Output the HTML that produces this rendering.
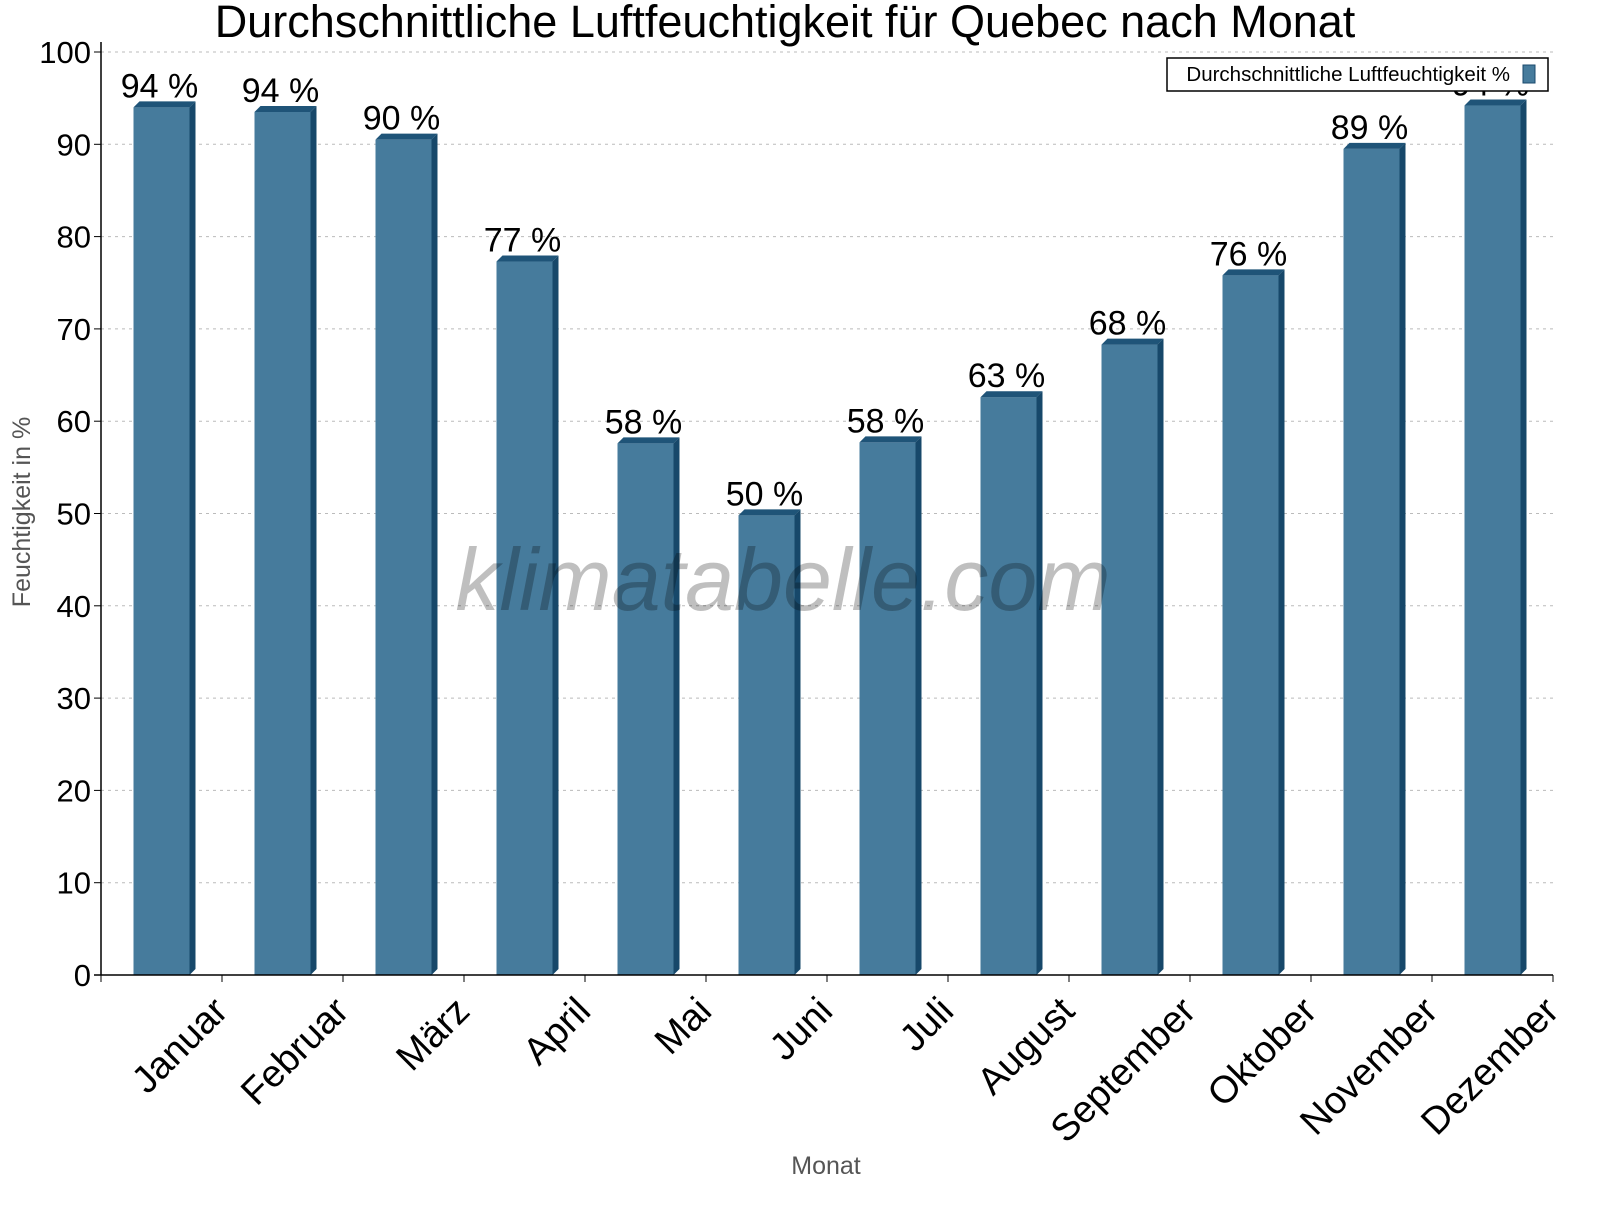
<!DOCTYPE html>
<html><head><meta charset="utf-8"><style>body{margin:0;background:#fff}svg{font-family:"Liberation Sans",sans-serif}</style></head>
<body>
<svg width="1600" height="1200" viewBox="0 0 1600 1200" id="chart">
<rect width="1600" height="1200" fill="#fff"/>
<text x="785" y="37" font-size="45" text-anchor="middle">Durchschnittliche Luftfeuchtigkeit für Quebec nach Monat</text>
<g id="grid"></g><g id="bars"></g><g id="axes"></g>
<text x="783" y="610" font-size="88" font-style="italic" text-anchor="middle" fill="#000" fill-opacity="0.25">klimatabelle.com</text>
<text transform="translate(30,512) rotate(-90)" font-size="25" fill="#555" text-anchor="middle">Feuchtigkeit in %</text>
<text x="826" y="1174" font-size="25" fill="#555" text-anchor="middle">Monat</text>
<g>
<rect x="1167" y="58" width="381" height="33" fill="#fff" stroke="#000" stroke-width="1.5"/>
<text x="1510" y="81" font-size="20.5" text-anchor="end">Durchschnittliche Luftfeuchtigkeit %</text>
<rect x="1523" y="65" width="12" height="18" fill="#467b9c" stroke="#1a4a6c"/>
</g>
</svg>
<script>
const categories=["Januar","Februar","März","April","Mai","Juni","Juli","August","September","Oktober","November","Dezember"];
const values=[94,93.5,90.5,77.3,57.6,49.8,57.7,62.6,68.3,75.8,89.5,94.2];
const valueLabels=["94 %","94 %","90 %","77 %","58 %","50 %","58 %","63 %","68 %","76 %","89 %","94 %"];
const yTicks=[0,10,20,30,40,50,60,70,80,90,100];
const NS="http://www.w3.org/2000/svg";
const X0=101,X1=1553,Y0=975,Y1=52;
const y=v=>Y0-(v/100)*(Y0-Y1);
const bw=(X1-X0)/categories.length;
const xc=i=>X0+bw*(i+0.5);
function mk(t,a,p){const e=document.createElementNS(NS,t);for(const k in a)e.setAttribute(k,a[k]);p.appendChild(e);return e;}
const grid=document.getElementById('grid'),bars=document.getElementById('bars'),axes=document.getElementById('axes');
yTicks.forEach(t=>{
 if(t>0){const g=mk('line',{x1:X0,x2:X1,y1:y(t),y2:y(t),stroke:'#bbb','stroke-dasharray':'3,4'},grid);
 
 }
 const tk=mk('line',{x1:X0-7,x2:X0,y1:y(t),y2:y(t),stroke:'#000'},axes);
 
 
 const lb=mk('text',{x:X0-10,y:y(t)+11,'font-size':31,'text-anchor':'end'},axes);lb.textContent=t;
 
 
});
const fw=56,d=6;
values.forEach((v,i)=>{
 const g=mk('g',{},bars);
 
 
 const l=xc(i)-fw/2,t=y(v);
 mk('rect',{x:l,y:t,width:fw,height:Y0-t,fill:'#467b9c'},g);
 mk('polygon',{points:`${l},${t} ${l+d},${t-d} ${l+fw+d},${t-d} ${l+fw},${t}`,fill:'#1f5478'},g);
 mk('polygon',{points:`${l+fw},${t} ${l+fw+d},${t-d} ${l+fw+d},${Y0-d} ${l+fw},${Y0}`,fill:'#17486a'},g);
 const vl=mk('text',{x:xc(i)-2,y:t-10,'font-size':34,'text-anchor':'middle'},bars);vl.textContent=valueLabels[i];
 
 
 const tk=mk('line',{x1:X0+bw*(i+1),x2:X0+bw*(i+1),y1:Y0,y2:Y0+7,stroke:'#000'},axes);
 
 
 const xl=mk('text',{transform:`translate(${xc(i)+48},${Y0+18}) rotate(-45)`,'font-size':38,'text-anchor':'end',dy:'0.75em'},axes);xl.textContent=categories[i];
 
 
});
const ya=mk('line',{x1:X0,x2:X0,y1:Y1-10,y2:Y0,stroke:'#000','stroke-width':1.5},axes);


const xa=mk('line',{x1:X0-7,x2:X1,y1:Y0,y2:Y0,stroke:'#000','stroke-width':1.5},axes);


const t0=mk('line',{x1:X0,x2:X0,y1:Y0,y2:Y0+7,stroke:'#000'},axes);


</script>
</body></html>
